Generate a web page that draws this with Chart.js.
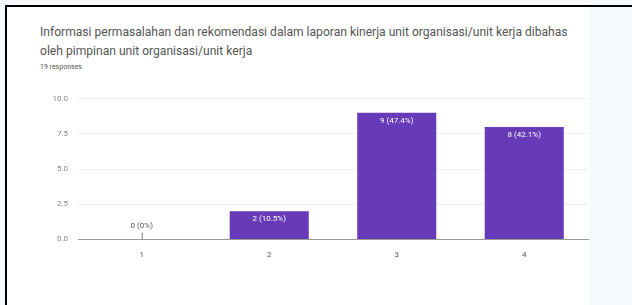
<!DOCTYPE html>
<html>
<head>
<meta charset="utf-8">
<script src="https://cdn.jsdelivr.net/npm/chart.js@4"></script>
<style>
  body { margin: 0; width: 632px; height: 305px; background: #f7fafd; position: relative; overflow: hidden; font-family: Roboto, sans-serif; }
  #frame { position: absolute; left: 5px; top: 5px; width: 627px; height: 300px; border-left: 2px solid #000; border-top: 2px solid #000; }
  #card { position: absolute; left: 7px; top: 7px; width: 582px; height: 298px; background: #fff; }
  #title { position: absolute; left: 40px; top: 23px; width: 580px; font-size: 12.1px; line-height: 19px; color: #555; white-space: nowrap; }
  #sub { position: absolute; left: 40px; top: 63px; font-size: 7px; color: #555; }
  #wrap { position: absolute; left: 30px; top: 84px; width: 565px; height: 179px; }
</style>
</head>
<body>
<div id="card"></div>
<div id="frame"></div>
<div id="title">Informasi permasalahan dan rekomendasi dalam laporan kinerja unit organisasi/unit kerja dibahas<br>oleh pimpinan unit organisasi/unit kerja</div>
<div id="sub">19 responses</div>
<div id="wrap"><canvas id="chart"></canvas></div>
<script>
var categories = ['1', '2', '3', '4'];
var counts = [0, 2, 9, 8];
var percents = ['0%', '10.5%', '47.4%', '42.1%'];
var yTicks = [0, 2.5, 5, 7.5, 10];

// etiquetas encima / dentro de cada barra
const barLabels = {
    id: 'barLabels',
    afterDatasetsDraw(chart) {
        const ctx = chart.ctx;
        const meta = chart.getDatasetMeta(0);
        ctx.save();
        ctx.font = '8px Roboto';
        ctx.textAlign = 'center';
        ctx.textBaseline = 'middle';
        meta.data.forEach(function (bar, i) {
            var txt = counts[i] + ' (' + percents[i] + ')';
            if (counts[i] > 0) {
                ctx.fillStyle = '#ffffff';
                ctx.fillText(txt, bar.x, bar.y + 8);
            } else {
                ctx.fillStyle = '#555';
                ctx.fillText(txt, bar.x, bar.y - 13);
                ctx.strokeStyle = '#777';
                ctx.lineWidth = 1;
                ctx.beginPath();
                ctx.moveTo(bar.x + 0.5, bar.y - 7);
                ctx.lineTo(bar.x + 0.5, bar.y);
                ctx.stroke();
            }
        });
        ctx.restore();
    }
};

new Chart(document.getElementById('chart'), {
    type: 'bar',
    data: {
        labels: categories,
        datasets: [{
            data: counts,
            backgroundColor: '#673ab7',
            borderWidth: 0,
            categoryPercentage: 1,
            barPercentage: 0.62
        }]
    },
    options: {
        responsive: true,
        maintainAspectRatio: false,
        animation: false,
        layout: { padding: { top: 0, right: 7, left: 0, bottom: 0 } },
        plugins: {
            legend: { display: false },
            tooltip: { enabled: false }
        },
        scales: {
            x: {
                grid: { display: false },
                border: { color: '#999', width: 1 },
                ticks: { color: '#555', font: { size: 8, family: 'Roboto' }, padding: 3 }
            },
            y: {
                min: 0,
                max: 10,
                afterBuildTicks: function (axis) {
                    axis.ticks = yTicks.map(function (v) { return { value: v }; });
                },
                afterFit: function (axis) { axis.width = 48; },
                grid: {
                    color: function (c) { return c.tick && c.tick.value === 0 ? '#999' : '#eeeeee'; },
                    drawTicks: false
                },
                border: { display: false },
                ticks: {
                    color: '#888',
                    font: { size: 8, family: 'Roboto' },
                    padding: 10,
                    callback: function (v) { return v.toFixed(1); }
                }
            }
        }
    },
    plugins: [barLabels]
});
</script>
</body>
</html>
